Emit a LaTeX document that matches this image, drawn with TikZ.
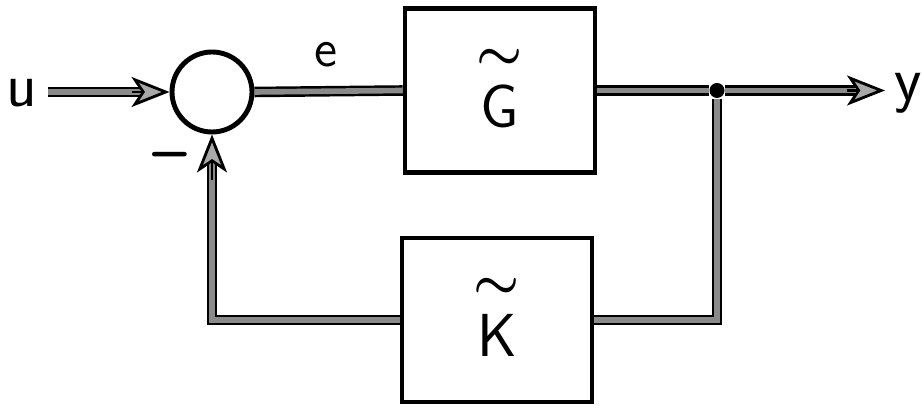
\documentclass[tikz,border=0pt]{standalone}
\usepackage{amsmath}
\usepackage{graphicx}
\usepackage{tikz}
\usetikzlibrary{arrows.meta,calc,positioning}
\definecolor{lineGray}{HTML}{8A8A8A}
\definecolor{tipGray}{HTML}{A8A8A8}
\newcommand{\tld}[1]{\raisebox{3pt}{$\overset{\raisebox{1pt}{\scalebox{.85}{$\textstyle\boldsymbol{\sim}$}}}{\mathsf{#1}}$}}

\begin{document}
\begin{tikzpicture}[
  font=\fontsize{18}{20}\sffamily,
  block/.style={draw,line width=1.3pt,minimum width=1.9cm,minimum height=1.64cm,inner sep=0pt},
  sumnode/.style={draw,circle,line width=1.4pt,minimum size=.8cm,inner sep=0pt},
  conn/.style={draw=black,double=lineGray,double distance=1.6pt,line width=.7pt},
  headarrow/.style={arrows={-Stealth[length=3.8mm,width=3mm,inset=1mm,fill=tipGray]},line width=.8pt}
]
  \useasboundingbox (0,0) rectangle (9.22,-4.08);

  \node (u) at (.22,-.93) {u};
  \node[sumnode] (sum) at (2.12,-.92) {};
  \node[block] (G) at (5.00,-.905) {\tld{G}};
  \node[block] (K) at (4.97,-3.20) {\tld{K}};
  \node[circle,fill,inner sep=0pt,minimum size=.15cm] (jn) at (7.17,-.905) {};
  \node (y) at (9.08,-.93) {y};
  \node (e) at (3.26,-.55) {\fontsize{15}{17}\selectfont e};
  \node (minus) at (1.70,-1.62) {\textbf{--}};
  \coordinate (uin) at (.48,-.92);
  \coordinate (out) at (8.85,-.905);
  \coordinate (fb) at (2.12,-1.80);

  \draw[conn] (sum.east) -- (G.west);
  \draw[conn] (G.east) -- (jn);
  \draw[conn] (jn) |- (K.east);
  \draw[conn] (K.west) -| (fb) -- ($(sum.south)+(0,-.3)$);
  \draw[headarrow] (fb) -- (sum.south);
  \draw[conn,shorten >=3mm] (jn) -- (out);
  \draw[headarrow] ($(out)+(-.38,0)$) -- (out);
  \draw[conn,shorten >=3mm] (uin) -- (sum.west);
  \draw[headarrow] ($(sum.west)+(-.38,0)$) -- (sum.west);
\end{tikzpicture}
\end{document}
